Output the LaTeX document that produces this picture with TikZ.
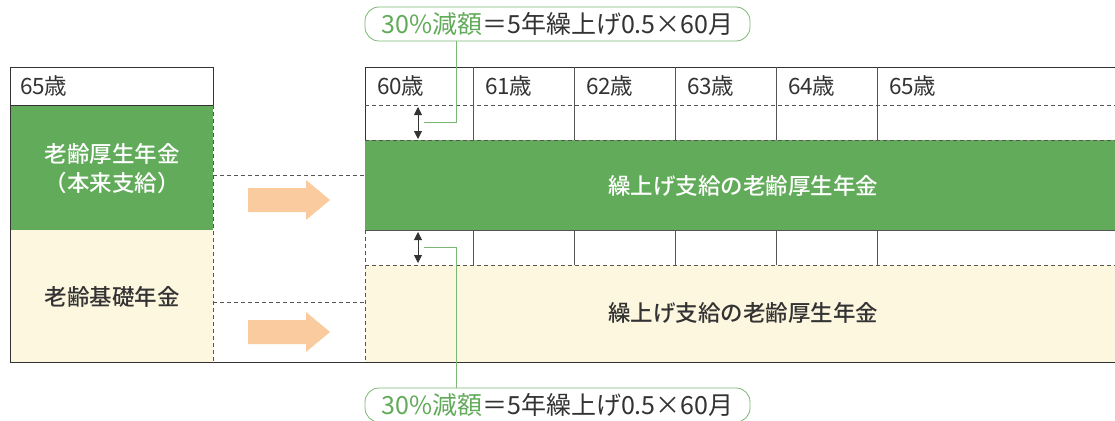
\documentclass[tikz,border=0pt]{standalone}
\usepackage{fontspec}
\setmainfont{Noto Sans CJK JP}
\newfontfamily\medfont{Noto Sans CJK JP Medium}
\usetikzlibrary{positioning,calc,arrows.meta}
\definecolor{nenkingreen}{HTML}{62AB5A}
\definecolor{nenkincream}{HTML}{FDF7E0}
\definecolor{nenkinorange}{HTML}{FACB9F}
\definecolor{nenkintext}{HTML}{333333}
\definecolor{nenkinline}{HTML}{555555}

\begin{document}
\begin{tikzpicture}[x=1pt,y=-1pt,every node/.style={outer sep=0pt,inner sep=0pt,text=nenkintext},
		frame/.style={draw=nenkintext,line width=0.9pt},
		divider/.style={draw=nenkinline,line width=0.8pt},
		dashline/.style={draw=nenkinline,line width=0.8pt,dash pattern=on 4pt off 3pt},
		agelabel/.style={anchor=west,font=\fontsize{22.5}{24}\selectfont},
		bandlabel/.style={align=center,font=\fontsize{22.5}{29}\selectfont\medfont},
		gap/.style={{Triangle[length=8pt,width=8pt]}-{Triangle[length=8pt,width=8pt]},draw=nenkintext,line width=0.9pt},
		callout/.style={draw=nenkingreen!85,line width=0.8pt},
		note/.style={draw=nenkingreen!85,line width=0.8pt,fill=white,rounded corners=14pt,minimum width=385pt,minimum height=34pt,font=\fontsize{25}{26}\selectfont},
		]
		\useasboundingbox (0,0) rectangle (1115,420);

		% left side: pension at 65
		\fill[nenkingreen] (10,105) rectangle (213,230);
		\fill[nenkincream] (10,230) rectangle (213,362);
		\draw[frame] (10,67) rectangle (213,105);
		\draw[frame] (10,105) -- (10,362) -- (1115,362);
		\draw[dashline] (213,105) -- (213,362);
		\node[agelabel] (left65) at (20,86) {65歳};
		\node[bandlabel,text=white] (leftkosei) at (112,169) {老齢厚生年金\\（本来支給）};
		\node[bandlabel] (leftkiso) at (112,297) {老齢基礎年金};

		% shift arrows
		\draw[dashline] (213,175) -- (365,175);
		\draw[dashline] (213,302) -- (365,302);
		\foreach \y in {200,332}
			\fill[nenkinorange] (248,\y-12) -- (306,\y-12) -- (306,\y-20) -- (330,\y) -- (306,\y+20) -- (306,\y+12) -- (248,\y+12) -- cycle;

		% right side: early claim from 60
		\fill[nenkingreen] (365,140) rectangle (1115,230);
		\fill[nenkincream] (365,265) rectangle (1115,362);
		\draw[frame] (1115,67) -- (365,67) -- (365,140);
		\draw[dashline] (365,230) -- (365,362);
		\draw[dashline] (365,105) -- (1115,105);
		\draw[dashline] (365,140) -- (1115,140);
		\draw[dashline] (365,265) -- (1115,265);
		\draw[divider] (365,230) -- (1115,230);
		\foreach \x in {473,574,675,776,877}{
			\draw[divider] (\x,67) -- (\x,140);
			\draw[divider] (\x,230) -- (\x,265);
		}
		\foreach \x/\age in {365/60,473/61,574/62,675/63,776/64,877/65}
			\node[agelabel] (age\age) at (\x+12,86) {\age 歳};
		\node[bandlabel,text=white] (rightkosei) at (743,186) {繰上げ支給の老齢厚生年金};
		\node[bandlabel] (rightkiso) at (743,313) {繰上げ支給の老齢厚生年金};

		% reduction
		\coordinate (gaptopa) at (418,107);
		\coordinate (gaptopb) at (418,139);
		\coordinate (gapbota) at (418,232);
		\coordinate (gapbotb) at (418,263);
		\draw[gap] (gaptopa) -- (gaptopb);
		\draw[gap] (gapbota) -- (gapbotb);
		\node[note] (topnote) at (557.5,24) {\textcolor{nenkingreen}{30\%減額}＝5年繰上げ0.5×60月};
		\node[note] (botnote) at (557.5,405) {\textcolor{nenkingreen}{30\%減額}＝5年繰上げ0.5×60月};
		\coordinate (calltop) at (424,122);
		\coordinate (callbot) at (424,247);
		\draw[callout] (topnote.south -| 456,0) |- (calltop);
		\draw[callout] (botnote.north -| 456,0) |- (callbot);
	\end{tikzpicture}
\end{document}
